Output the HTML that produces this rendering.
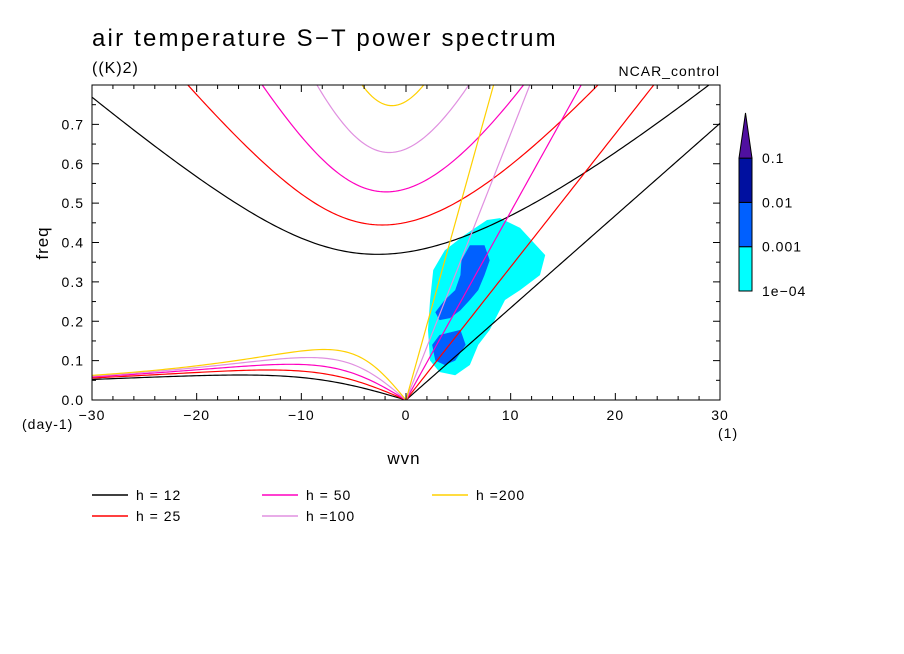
<!DOCTYPE html>
<html><head><meta charset="utf-8"><style>
html,body{margin:0;padding:0;background:#fff;}
svg{display:block;font-family:"Liberation Sans",sans-serif;}
text{letter-spacing:1px;}
</style></head><body>
<svg id="chart" width="904" height="654" viewBox="0 0 904 654">
<defs><clipPath id="plotclip"><rect x="92" y="85" width="628" height="315"/></clipPath></defs>
<text x="92" y="46" font-size="24" style="letter-spacing:2.2px">air temperature S−T power spectrum</text>
<text x="92" y="73" font-size="16">((K)2)</text>
<text x="720" y="76" font-size="14" text-anchor="end">NCAR_control</text>
<g id="shading" clip-path="url(#plotclip)"></g>
<g id="curves" clip-path="url(#plotclip)"></g>
<rect x="92" y="85" width="628" height="315" fill="none" stroke="#000" stroke-width="1"/>
<g id="axes"></g>
<text x="22" y="429" font-size="14">(day-1)</text>
<text x="718" y="438" font-size="14">(1)</text>
<text x="404" y="464" font-size="17" text-anchor="middle">wvn</text>
<text x="48" y="243" font-size="17" text-anchor="middle" transform="rotate(-90 48 243)">freq</text>
<g id="colorbar"></g>
<g id="legend"></g>
</svg>
<script>
const depths = [12, 25, 50, 100, 200];
const depthLabels = ["h = 12", "h = 25", "h = 50", "h =100", "h =200"];
const depthColors = ["#000000", "#ff0000", "#ff00c0", "#e090e0", "#ffd000"];
const xTicks = [-30, -20, -10, 0, 10, 20, 30];
const xTickLabels = ["−30", "−20", "−10", "0", "10", "20", "30"];
const yTicks = [0, 0.1, 0.2, 0.3, 0.4, 0.5, 0.6, 0.7];
const yTickLabels = ["0.0", "0.1", "0.2", "0.3", "0.4", "0.5", "0.6", "0.7"];
const cbLevels = ["1e−04", "0.001", "0.01", "0.1"];
const cbColors = ["#00ffff", "#0060ff", "#0010a0", "#5010a0"];
const cyanRegion = [[7.74,0.457],[8.98,0.462],[10.9,0.437],[13.3,0.368],[12.8,0.317],[10.9,0.279],[9.46,0.254],[8.0,0.178],[6.9,0.14],[6.1,0.089],[4.7,0.063],[3.2,0.071],[2.3,0.10],[2.1,0.178],[2.3,0.254],[2.6,0.33],[3.7,0.38],[5.6,0.419]];
const blueRegion1 = [[6.1,0.393],[7.5,0.393],[8.0,0.355],[7.5,0.317],[6.9,0.279],[6.1,0.254],[5.2,0.228],[4.2,0.208],[3.2,0.203],[2.8,0.223],[3.7,0.254],[4.7,0.279],[5.2,0.317],[5.3,0.355]];
const blueRegion2 = [[3.2,0.165],[5.2,0.178],[5.7,0.14],[4.7,0.10],[3.7,0.089],[2.8,0.10],[2.5,0.14]];

const NS="http://www.w3.org/2000/svg";
const X0=92,X1=720,Y0=400,Ytop=85,XMIN=-30,XMAX=30,YMAX=0.8;
const xs=v=>X0+(v-XMIN)/(XMAX-XMIN)*(X1-X0);
const ys=v=>Y0-v/YMAX*(Y0-Ytop);
function mk(tag,attrs,parent){const e=document.createElementNS(NS,tag);for(const k in attrs)e.setAttribute(k,attrs[k]);parent.appendChild(e);return e;}

const sh=document.getElementById('shading');
function poly(pts,fill,name){const p=mk('polygon',{points:pts.map(q=>xs(q[0])+','+ys(q[1])).join(' '),fill:fill},sh);

}
poly(cyanRegion,cbColors[0],'power-1e-04-region');
poly(blueRegion1,cbColors[1],'power-0.001-region-upper');
poly(blueRegion2,cbColors[1],'power-0.001-region-lower');

const g=9.81,R=6.371e6,Om=7.292e-5,beta=2*Om/R;
const cv=document.getElementById('curves');
function newton(f,df,w){for(let i=0;i<60;i++){const d=df(w);if(d===0)break;w=w-f(w)/d;}return w;}
depths.forEach((h,i)=>{
  const c=Math.sqrt(g*h),L=Math.sqrt(c/beta),Ts=Math.sqrt(beta*c),fac=Ts*86400/(2*Math.PI);
  const ig=[],er=[],kel=[];
  for(let s=-30;s<=30.0001;s+=0.25){
    const k=s/R*L;
    const f=w=>w*w*w-(k*k+3)*w-k, df=w=>3*w*w-(k*k+3);
    ig.push([s,newton(f,df,Math.sqrt(k*k+3)+1)*fac]);
    if(s<0){er.push([s,newton(f,df,-k/(k*k+3))*fac]);}
    if(s>=0){kel.push([s,k*fac]);}
  }
  er.push([0,0]);
  [[ig,'ig-n1'],[er,'rossby-n1'],[kel,'kelvin']].forEach(([pts,nm])=>{
    const p=mk('polyline',{points:pts.map(q=>xs(q[0]).toFixed(2)+','+ys(q[1]).toFixed(2)).join(' '),fill:'none',stroke:depthColors[i],'stroke-width':1.2},cv);
    
    
  });
});

const ax=document.getElementById('axes');
xTicks.forEach((v,i)=>{
  const x=xs(v);
  mk('line',{x1:x,y1:Y0,x2:x,y2:Y0-7,stroke:'#000'},ax);
  mk('line',{x1:x,y1:Ytop,x2:x,y2:Ytop+7,stroke:'#000'},ax);
  const t=mk('text',{x:x,y:Y0+20,'font-size':14,'text-anchor':'middle'},ax);t.textContent=xTickLabels[i];
  
  
});
for(let v=-30;v<=30;v+=2){if(v%10===0)continue;const x=xs(v);
  mk('line',{x1:x,y1:Y0,x2:x,y2:Y0-4,stroke:'#000'},ax);mk('line',{x1:x,y1:Ytop,x2:x,y2:Ytop+4,stroke:'#000'},ax);}
yTicks.forEach((v,i)=>{
  const y=ys(v);
  mk('line',{x1:X0,y1:y,x2:X0+7,y2:y,stroke:'#000'},ax);
  mk('line',{x1:X1,y1:y,x2:X1-7,y2:y,stroke:'#000'},ax);
  const t=mk('text',{x:84,y:y+5,'font-size':14,'text-anchor':'end'},ax);t.textContent=yTickLabels[i];
  
  
});
for(let v=0.05;v<0.8;v+=0.1){const y=ys(v);
  mk('line',{x1:X0,y1:y,x2:X0+4,y2:y,stroke:'#000'},ax);mk('line',{x1:X1,y1:y,x2:X1-4,y2:y,stroke:'#000'},ax);}

const cb=document.getElementById('colorbar');
const cbX=739,cbW=13,cbBot=291,cbStep=44.3;
for(let i=0;i<3;i++){
  const r=mk('rect',{x:cbX,y:cbBot-(i+1)*cbStep,width:cbW,height:cbStep,fill:cbColors[i],stroke:'#000','stroke-width':1},cb);
  
  
}
const tri=mk('polygon',{points:`${cbX},${cbBot-3*cbStep} ${cbX+cbW},${cbBot-3*cbStep} ${cbX+cbW/2},113`,fill:cbColors[3],stroke:'#000','stroke-width':1},cb);


cbLevels.forEach((s,i)=>{
  const t=mk('text',{x:762,y:cbBot-i*cbStep+5,'font-size':14},cb);t.textContent=s;
  
  
});

const lg=document.getElementById('legend');
depths.forEach((h,i)=>{
  const col=Math.floor(i/2),row=i%2;
  const x=92+col*170,y=495+row*21;
  const gg=mk('g',{},lg);
  
  
  mk('line',{x1:x,y1:y,x2:x+36,y2:y,stroke:depthColors[i],'stroke-width':1.5},gg);
  const t=mk('text',{x:x+44,y:y+5,'font-size':14},gg);t.textContent=depthLabels[i];
});
</script>
</body></html>
